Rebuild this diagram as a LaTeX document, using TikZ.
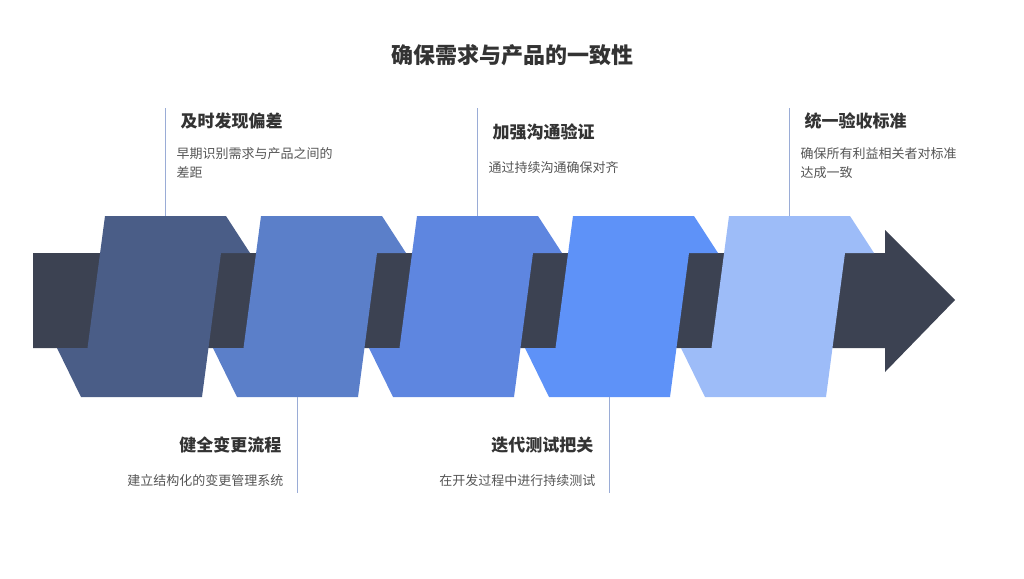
\documentclass[tikz,border=0pt]{standalone}
\usepackage{fontspec}
\setmainfont{Noto Sans CJK SC}
\definecolor{barc}{HTML}{3C4252}
\definecolor{ca}{HTML}{4A5D87}
\definecolor{cb}{HTML}{5B7FC9}
\definecolor{cc}{HTML}{5E86E0}
\definecolor{cd}{HTML}{5E92F8}
\definecolor{ce}{HTML}{9DBCF8}
\definecolor{stemc}{HTML}{9AACD6}
\definecolor{descc}{HTML}{555555}
\tikzset{
  head/.style={font=\fontsize{17}{20}\selectfont\bfseries, text=black!80},
  desc/.style={font=\fontsize{13}{19}\selectfont, text=descc, align=left},
  stem/.style={stemc, line width=1pt}
}
\begin{document}
\begin{tikzpicture}[x=1pt,y=-1pt]
    \useasboundingbox (0,0) rectangle (1024,578);
    \node[font=\fontsize{22}{26}\selectfont\bfseries, text=black!80] (title) at (512,55) {确保需求与产品的一致性};

    % bar with arrow head
    \fill[barc] (33,253) -- (885,253) -- (885,230) -- (955,300) -- (885,372) -- (885,348) -- (33,348) -- cycle;

    % the five blocks
    \foreach \i/\c in {0/ca,1/cb,2/cc,3/cd,4/ce} {
        \begin{scope}[xshift=\i*156]
        \fill[\c] (105,216) -- (226,216) -- (250,253) -- (221,253) -- (202,397)
                  -- (81,397) -- (57,348) -- (87.5,348) -- cycle;
        \end{scope}
    }

    % stems
    \coordinate (s1a) at (165,108); \coordinate (s1b) at (165,216);
    \coordinate (s2a) at (297,397); \coordinate (s2b) at (297,493);
    \coordinate (s3a) at (477,108); \coordinate (s3b) at (477,216);
    \coordinate (s4a) at (609,397); \coordinate (s4b) at (609,493);
    \coordinate (s5a) at (789,108); \coordinate (s5b) at (789,216);
    \foreach \s in {1,...,5} \draw[stem] (s\s a) -- (s\s b);

    % upper labels
    \node[head, anchor=west] (h1) at (177,121) {及时发现偏差};
    \node[desc, anchor=north west] (d1) at (173,144) {早期识别需求与产品之间的\\差距};
    \node[head, anchor=west] (h3) at (489,132) {加强沟通验证};
    \node[desc, anchor=north west] (d3) at (485,158) {通过持续沟通确保对齐};
    \node[head, anchor=west] (h5) at (801,121) {统一验收标准};
    \node[desc, anchor=north west] (d5) at (797,144) {确保所有利益相关者对标准\\达成一致};

    % lower labels
    \node[head, anchor=east] (h2) at (285,445) {健全变更流程};
    \node[desc, anchor=east] (d2) at (287,481) {建立结构化的变更管理系统};
    \node[head, anchor=east] (h4) at (597,445) {迭代测试把关};
    \node[desc, anchor=east] (d4) at (599,481) {在开发过程中进行持续测试};
\end{tikzpicture}
\end{document}
